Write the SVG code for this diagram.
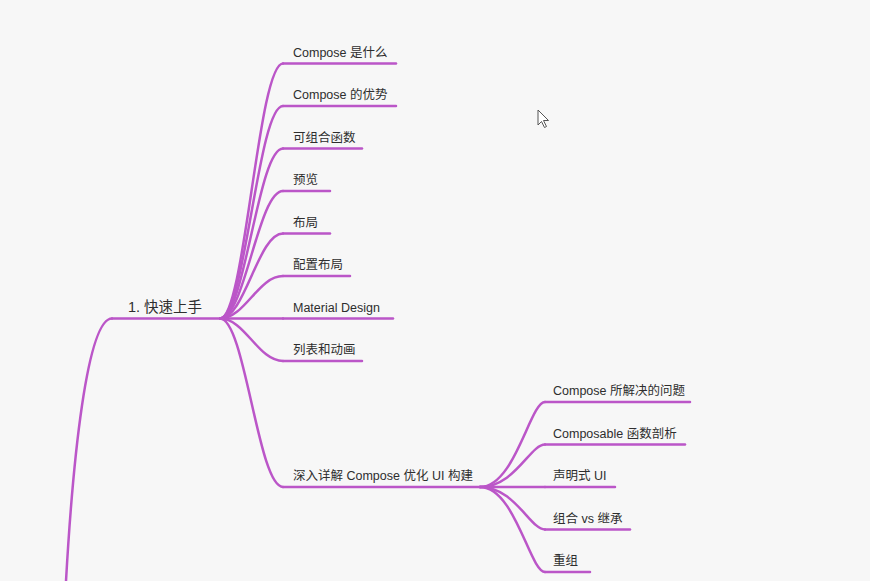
<svg xmlns="http://www.w3.org/2000/svg" width="870" height="581" viewBox="0 0 870 581">
<style>
.bg{fill:#f7f7f7}
.ln{fill:none;stroke:#bb56c8;stroke-width:2.5;stroke-linecap:round}
.t{font-family:"Liberation Sans","Noto Sans CJK SC",sans-serif;font-size:12.5px;fill:#2e2e2e}
.r{font-size:14.5px}
.cur{fill:#fff;stroke:#555;stroke-width:1;stroke-linejoin:round}
</style>
<rect class="bg" x="0" y="0" width="870" height="581"/>
<g id="connectors">
<path class="ln" d="M64 620 C72 450 88 318.5 112 318.5"/>
<path class="ln" d="M220 318.5 C245 318.5 258 63.5 283 63.5"/>
<path class="ln" d="M220 318.5 C245 318.5 258 106 283 106"/>
<path class="ln" d="M220 318.5 C245 318.5 258 148.5 283 148.5"/>
<path class="ln" d="M220 318.5 C245 318.5 258 191 283 191"/>
<path class="ln" d="M220 318.5 C245 318.5 258 233.5 283 233.5"/>
<path class="ln" d="M220 318.5 C245 318.5 258 276 283 276"/>
<path class="ln" d="M220 318.5 L283 318.5"/>
<path class="ln" d="M220 318.5 C245 318.5 258 361 283 361"/>
<path class="ln" d="M220 318.5 C245 318.5 258 487 283 487"/>
<path class="ln" d="M480 487 C515 487 530 402 545 402"/>
<path class="ln" d="M480 487 C515 487 530 444.5 545 444.5"/>
<path class="ln" d="M480 487 L545 487"/>
<path class="ln" d="M480 487 C515 487 530 529.5 545 529.5"/>
<path class="ln" d="M480 487 C515 487 530 572 545 572"/>
</g>
<g id="n-root">
<path class="ln" d="M112 318.5 H220"/>
<text class="t r" x="128" y="312">1. 快速上手</text>
</g>
<g id="n1">
<path class="ln" d="M283 63.5 H396"/>
<text class="t" x="293" y="56.5">Compose 是什么</text>
</g>
<g id="n2">
<path class="ln" d="M283 106 H396"/>
<text class="t" x="293" y="99">Compose 的优势</text>
</g>
<g id="n3">
<path class="ln" d="M283 148.5 H362"/>
<text class="t" x="293" y="141.5">可组合函数</text>
</g>
<g id="n4">
<path class="ln" d="M283 191 H330"/>
<text class="t" x="293" y="184">预览</text>
</g>
<g id="n5">
<path class="ln" d="M283 233.5 H330"/>
<text class="t" x="293" y="226.5">布局</text>
</g>
<g id="n6">
<path class="ln" d="M283 276 H350"/>
<text class="t" x="293" y="269">配置布局</text>
</g>
<g id="n7">
<path class="ln" d="M283 318.5 H393"/>
<text class="t" x="293" y="311.5">Material Design</text>
</g>
<g id="n8">
<path class="ln" d="M283 361 H362"/>
<text class="t" x="293" y="354">列表和动画</text>
</g>
<g id="n9">
<path class="ln" d="M283 487 H480"/>
<text class="t" x="293" y="480">深入详解 Compose 优化 UI 构建</text>
</g>
<g id="n9-1">
<path class="ln" d="M545 402 H690"/>
<text class="t" x="553" y="395">Compose 所解决的问题</text>
</g>
<g id="n9-2">
<path class="ln" d="M545 444.5 H685"/>
<text class="t" x="553" y="437.5">Composable 函数剖析</text>
</g>
<g id="n9-3">
<path class="ln" d="M545 487 H615"/>
<text class="t" x="553" y="480">声明式 UI</text>
</g>
<g id="n9-4">
<path class="ln" d="M545 529.5 H630"/>
<text class="t" x="553" y="522.5">组合 vs 继承</text>
</g>
<g id="n9-5">
<path class="ln" d="M545 572 H590"/>
<text class="t" x="553" y="565">重组</text>
</g>
<polygon class="cur" points="538,110 538,125 541.5,121.5 544.5,127.5 546.5,126.5 543.5,120.5 548.5,120.5"/>
</svg>
